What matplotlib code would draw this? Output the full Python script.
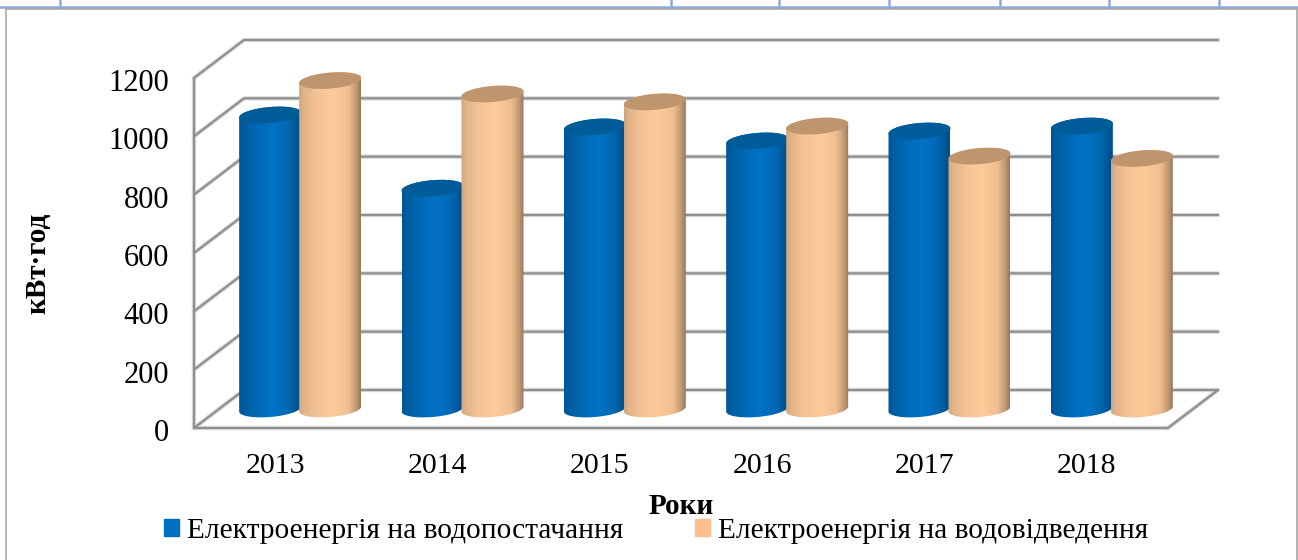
import numpy as np
import matplotlib
matplotlib.use('Agg')
import matplotlib.pyplot as plt
from matplotlib.lines import Line2D
from matplotlib.patches import Patch, PathPatch, Polygon
from matplotlib.path import Path
from matplotlib.transforms import ScaledTranslation

years = ['2013', '2014', '2015', '2016', '2017', '2018']
water_supply = [1008, 757, 967, 919, 953, 970]
water_drain = [1126, 1080, 1053, 970, 867, 859]
y_ticks = [0, 200, 400, 600, 800, 1000, 1200]
supply_label = 'Електроенергія на водопостачання'
drain_label = 'Електроенергія на водовідведення'

W, H = 1298, 560
plt.rcParams['font.family'] = ['Liberation Serif', 'DejaVu Serif']

fig = plt.figure(figsize=(W / 100, H / 100), dpi=100)
ax = fig.add_axes([194 / W, (H - 428) / H, 974 / W, 350 / H])
ax.set_xlim(-0.5, 5.5)
ax.set_ylim(0, 1200)

# pixels to data units
px_x = 6 / 974
px_y = 1200 / 350
depth_x = 50 * px_x
depth_y = 38 * px_y

GRID = '#8f8f8f'
SHADOW = '#dcdcdc'


def grid_line(xs, ys):
    ax.plot(xs, ys, color=SHADOW, lw=3.2, clip_on=False, zorder=1, solid_capstyle='round')
    ax.plot(xs, ys, color=GRID, lw=1.6, clip_on=False, zorder=2, solid_capstyle='round')


# floor, side wall and back wall lines
for v in y_ticks:
    grid_line([-0.5, -0.5 + depth_x, 5.5 + depth_x],
              [v, v + depth_y, v + depth_y])
grid_line([5.5, 5.5 + depth_x], [0, depth_y])
grid_line([-0.5, 5.5], [0, 0])
grid_line([-0.5, -0.5], [0, 1200])


def cylinder(cx, value, stops, top_color, z):
    a = 31 * px_x
    b = 8 * px_y
    tilt = 2.5 * px_y
    base = 19 * px_y
    t = np.linspace(0, np.pi, 60)
    # lower half of the base ellipse, then back along the top rim
    low_x = cx - a * np.cos(t)
    low_y = base - tilt * np.cos(t) - b * np.sin(t)
    up_x = cx + a * np.cos(t)
    up_y = value + base + tilt * np.cos(t) + b * np.sin(t)
    verts = np.column_stack([np.r_[low_x, up_x], np.r_[low_y, up_y]])
    clip = PathPatch(Path(verts), transform=ax.transData, fc='none', ec='none')
    pos = np.linspace(0, 1, 256)
    rgb = np.column_stack([np.interp(pos, stops[0], [c[i] for c in stops[1]]) for i in range(3)])
    im = ax.imshow(rgb[np.newaxis, :, :] / 255, extent=(cx - a, cx + a, 0, value + 60 * px_y),
                   aspect='auto', zorder=z, interpolation='bilinear')
    im.set_clip_path(clip)
    im.set_clip_box(fig.bbox)
    # top cap
    s = np.linspace(0, 2 * np.pi, 80)
    cap = Polygon(np.column_stack([cx + a * np.cos(s),
                                   value + base + tilt * np.cos(s) + b * np.sin(s)]),
                  closed=True, fc=top_color, ec='none', zorder=z + 0.1, clip_on=False)
    ax.add_patch(cap)


blue_stops = ([0, 0.08, 0.3, 0.55, 0.8, 0.93, 1],
              [(0, 84, 150), (0, 92, 160), (0, 105, 182), (0, 114, 198), (0, 104, 178), (0, 84, 146), (0, 78, 134)])
orange_stops = ([0, 0.08, 0.3, 0.55, 0.8, 0.93, 1],
                [(205, 165, 128), (226, 180, 138), (246, 195, 149), (254, 202, 153), (240, 190, 145), (190, 150, 112), (150, 120, 92)])

shift = 30 * px_x
for i in range(len(years)):
    cx = i + depth_x / 2
    cylinder(cx - shift, water_supply[i], blue_stops, '#005c98', 3 + i * 2)
    cylinder(cx + shift, water_drain[i], orange_stops, '#bf956e', 4 + i * 2)

ax.set_xlim(-0.5, 5.5)
ax.set_ylim(0, 1200)

for side in ax.spines.values():
    side.set_visible(False)
ax.patch.set_visible(False)

ax.set_xticks(range(len(years)))
ax.set_xticklabels(years)
ax.set_yticks(y_ticks)
ax.tick_params(axis='x', length=0, labelsize=21.5, pad=18)
ax.tick_params(axis='y', length=0, labelsize=22, pad=18)
nudge = ScaledTranslation(0, -2 / 100, fig.dpi_scale_trans)
for lab in ax.get_yticklabels():
    lab.set_transform(lab.get_transform() + nudge)

ax.set_xlabel('Роки', fontsize=21, fontweight='bold')
ax.xaxis.set_label_coords((681 - 194) / 974, -(493 - 428) / 350)
ax.set_ylabel('кВт·год', fontsize=21, fontweight='bold')
ax.yaxis.set_label_coords((51 - 194) / 974, (428 - 263) / 350)

handles = [Patch(color='#0070c0', label=supply_label), Patch(color='#fbc08e', label=drain_label)]
fig.legend(handles=handles, loc='lower left', bbox_to_anchor=(164 / W, 16 / H), ncol=2, frameon=False,
           fontsize=21.2, handlelength=0.52, handleheight=0.52, handletextpad=0.25, columnspacing=2.45,
           borderpad=0, borderaxespad=0)

# table rules above the chart and the chart frame
def fig_line(xs, ys, color, lw):
    fig.add_artist(Line2D([x / W for x in xs], [1 - y / H for y in ys], color=color, lw=lw))


fig_line([0, W], [6.5, 6.5], '#8eaadb', 1.8)
for x in [60, 671, 779, 889, 1000, 1109, 1219]:
    fig_line([x, x], [0, 6.5], '#8eaadb', 1.8)
fig_line([6, W - 1.5], [8.5, 8.5], '#a6a6a6', 1.2)
fig_line([6, 6], [8.5, H], '#a6a6a6', 1.2)
fig_line([W - 1.5, W - 1.5], [8.5, H], '#a6a6a6', 1.2)

fig.savefig('out.png', dpi=100)
